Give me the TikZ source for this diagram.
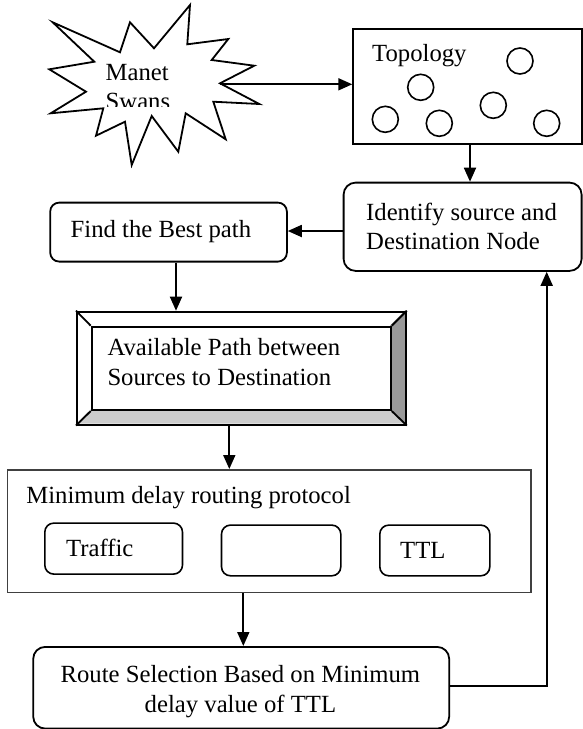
\documentclass[tikz,border=0pt]{standalone}
\usepackage{fontspec}
\setmainfont{Liberation Serif}
\usetikzlibrary{arrows.meta}
\tikzset{
  box/.style={draw, line width=1.8pt, inner sep=0pt, anchor=north west},
  rbox/.style={box, rounded corners=9pt},
  rboxl/.style={box, rounded corners=12pt},
  txt/.style={inner sep=0pt, anchor=base west, font=\fontsize{24.7}{29.5}\selectfont, align=left},
  arr/.style={line width=1.8pt, -{Triangle[length=14pt,width=12pt]}},
  plain/.style={line width=1.8pt},
  dot/.style={draw, line width=1.6pt, circle, minimum size=26pt, inner sep=0pt},
}
\begin{document}
\begin{tikzpicture}[x=1pt,y=-1pt]
\useasboundingbox (0,0) rectangle (582,729);
% starburst
\draw[line width=1.8pt, line join=miter, fill=white]
 (52.7,22.3) -- (120,52.3) -- (130,22.3) -- (154,48.3) -- (190,5) -- (187.3,44.3)
 -- (228.3,39) -- (211.7,60) -- (254.3,65.7) -- (220,83.3) -- (259.3,104) -- (213.3,101.7)
 -- (225.7,139.3) -- (185.7,113.3) -- (178.3,151.7) -- (151.7,116) -- (131.7,165)
 -- (125,121.7) -- (96,135.7) -- (103.3,108.3) -- (50.7,113.3) -- (86,91.7)
 -- (49.3,69.3) -- (94.3,61.7) -- cycle;
\coordinate (starR) at (220,84.3);
\node[txt] (manet) at (105.5,80) {Manet};
\begin{scope}
  \clip (90,86) rectangle (200,106.5);
  \node[txt] (swans) at (105.5,109.5) {Swans};
\end{scope}
% topology
\node[box, minimum width=229pt, minimum height=114.4pt] (topo) at (352.3,28.3) {};
\node[txt] (topot) at (372,61.5) {Topology};
\node[dot] (c1) at (520,61) {};
\node[dot] (c2) at (420.7,87.3) {};
\node[dot] (c3) at (385.3,119.3) {};
\node[dot] (c4) at (439.3,123.3) {};
\node[dot] (c5) at (493.3,105.3) {};
\node[dot] (c6) at (546.7,123.3) {};
% identify
\node[rboxl, minimum width=238pt, minimum height=88.3pt] (ident) at (342.7,181.7) {};
\node[txt] (identt) at (366,249.7) {Identify source and\\Destination Node};
% find
\node[rbox, minimum width=236.7pt, minimum height=59pt] (find) at (49.3,201.7) {};
\node[txt] (findt) at (70.5,237) {Find the Best path};
% available (bevelled)
\fill[white] (76,310.7) -- (405,310.7) -- (390,325.7) -- (90.7,325.7) -- cycle;
\fill[white] (76,310.7) -- (90.7,325.7) -- (90.7,409.3) -- (76,423.7) -- cycle;
\fill[black!40] (405,310.7) -- (405,423.7) -- (390,409.3) -- (390,325.7) -- cycle;
\fill[black!20] (76,423.7) -- (405,423.7) -- (390,409.3) -- (90.7,409.3) -- cycle;
\node[box, minimum width=329pt, minimum height=113pt] (avail) at (76,310.7) {};
\node[draw, line width=1.8pt, inner sep=0pt, anchor=north west, minimum width=299.3pt, minimum height=83.6pt] (availin) at (90.7,325.7) {};
\draw[plain] (avail.north west) -- (availin.north west);
\draw[plain] (avail.north east) -- (availin.north east);
\draw[plain] (avail.south west) -- (availin.south west);
\draw[plain] (avail.south east) -- (availin.south east);
\node[txt] (availt) at (107.3,385.4) {Available Path between\\Sources to Destination};
% minimum delay
\node[draw=black!75, line width=1.6pt, inner sep=0pt, anchor=north west, minimum width=523.3pt, minimum height=122.7pt] (mind) at (6.7,469) {};
\node[txt] (mindt) at (26.2,503) {Minimum delay routing protocol};
\node[rbox, line width=1.6pt, minimum width=137.7pt, minimum height=51pt] (traffic) at (44,522.3) {};
\node[txt] (traffict) at (66,556.4) {Traffic};
\node[rbox, line width=1.6pt, minimum width=119.3pt, minimum height=50.7pt] (blank) at (220.7,524.3) {};
\node[rbox, line width=1.6pt, minimum width=110pt, minimum height=50.7pt] (ttl) at (379,524.3) {};
\node[txt] (ttlt) at (400,558) {TTL};
% route selection
\node[rboxl, minimum width=416pt, minimum height=81.7pt] (route) at (32.3,646) {};
\node[inner sep=0pt, anchor=base, font=\fontsize{24.7}{29.5}\selectfont, align=center] (routet) at (240.4,712) {Route Selection Based on Minimum\\delay value of TTL};
% connectors
\coordinate (xa) at (470,0);
\coordinate (ya) at (0,231);
\coordinate (xb) at (176,0);
\coordinate (xc) at (229.3,0);
\coordinate (xd) at (243.3,0);
\coordinate (fb) at (546.7,686);
\draw[arr] (starR) -- (topo.west |- starR);
\draw[arr] (topo.south -| xa) -- (ident.north -| xa);
\draw[arr] (ident.west |- ya) -- (find.east |- ya);
\draw[arr] (find.south -| xb) -- (avail.north -| xb);
\draw[arr] (avail.south -| xc) -- (mind.north -| xc);
\draw[arr] (mind.south -| xd) -- (route.north -| xd);
\draw[arr] (route.east |- fb) -- (fb) -- (ident.south -| fb);
\end{tikzpicture}
\end{document}
